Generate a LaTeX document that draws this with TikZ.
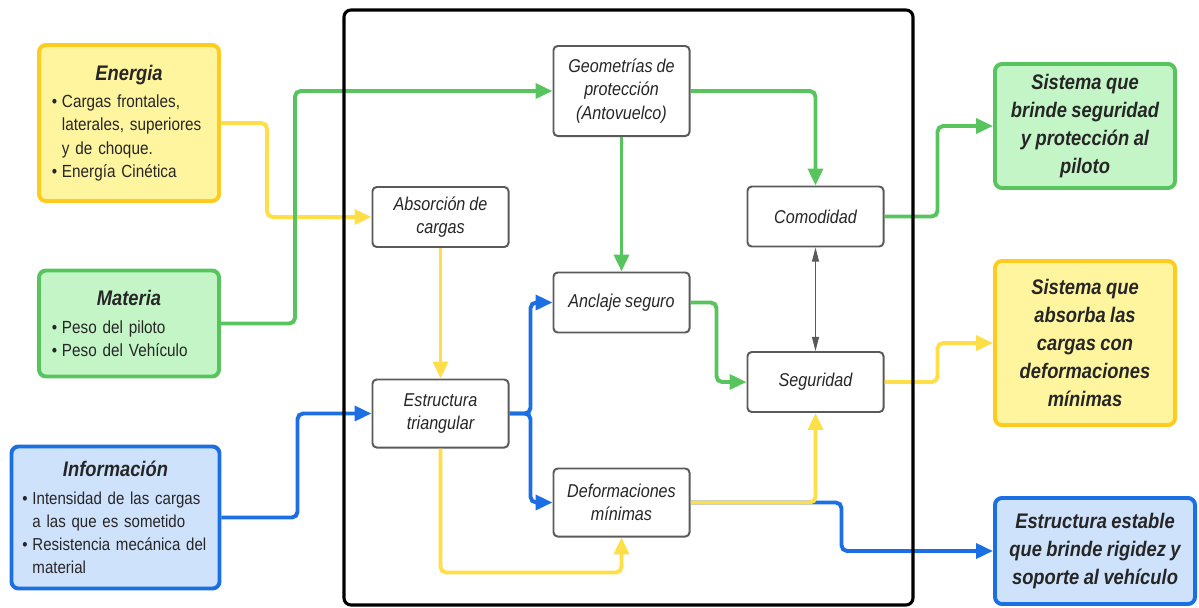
\documentclass[tikz,border=0pt]{standalone}
\usepackage{fontspec}
\setmainfont{Liberation Sans}[FakeStretch=0.87, WordSpace=0.87]
\usetikzlibrary{arrows.meta}

\definecolor{txt}{HTML}{262626}
\definecolor{ylfill}{HTML}{FFF59F}
\definecolor{ylborder}{HTML}{FFCB1F}
\definecolor{ylline}{HTML}{FFDE47}
\definecolor{grfill}{HTML}{C4F5C7}
\definecolor{grborder}{HTML}{57C45E}
\definecolor{blfill}{HTML}{CFE2FC}
\definecolor{blborder}{HTML}{1C6FE3}
\definecolor{stagegray}{HTML}{5A5A5A}

\newcommand{\boxtitle}[1]{{\centering\fontsize{15}{18}\selectfont\bfseries\itshape #1\par}\vspace{3pt}}
\newcommand{\bul}[1]{\par\hangindent=0.25cm\hangafter=1\noindent\makebox[0.25cm][l]{\textbullet}#1\par}

\tikzset{
  inbox/.style={draw, line width=2.8pt, rounded corners=5pt, inner sep=0pt, text=txt,
    align=left, font=\fontsize{12.5}{16.5}\selectfont},
  yellowbox/.style={inbox, draw=ylborder, fill=ylfill},
  greenbox/.style={inbox, draw=grborder, fill=grfill},
  bluebox/.style={inbox, draw=blborder, fill=blfill},
  stage/.style={draw=stagegray, line width=1.4pt, rounded corners=3pt, fill=white, text=txt,
    align=center, minimum width=3.4cm, inner sep=0pt, font=\fontsize{13.2}{16.5}\selectfont\itshape},
  outbox/.style={draw, line width=2.8pt, rounded corners=5pt, inner sep=0pt, text=txt,
    align=center, font=\fontsize{15}{20}\selectfont\bfseries\itshape},
  yellowout/.style={outbox, draw=ylborder, fill=ylfill},
  greenout/.style={outbox, draw=grborder, fill=grfill},
  blueout/.style={outbox, draw=blborder, fill=blfill},
  flow/.style={line width=2.8pt, rounded corners=4pt, -{Triangle[length=12pt,width=10.5pt]}},
  yflow/.style={flow, draw=ylline, color=ylline},
  gflow/.style={flow, draw=grborder, color=grborder},
  bflow/.style={flow, draw=blborder, color=blborder}
}

\begin{document}
\begin{tikzpicture}[x=0.025cm, y=-0.025cm]
\useasboundingbox (0,0) rectangle (1199,607);

% entradas
\node[yellowbox, minimum width=4.5cm, minimum height=3.9cm, text width=3.85cm] (energia) at (129,123)
  {\boxtitle{Energia}\bul{Cargas frontales,\newline laterales, superiores\newline y de choque.}\bul{Energía Cinética}};
\node[greenbox, minimum width=4.5cm, minimum height=2.65cm, text width=3.85cm] (materia) at (129,323.5)
  {\boxtitle{Materia}\bul{Peso del piloto}\bul{Peso del Vehículo}};
\node[bluebox, minimum width=5.2cm, minimum height=3.55cm, text width=4.65cm,
  font=\fontsize{12.3}{16.5}\selectfont] (informacion) at (115.5,517.5)
  {\boxtitle{Información}\bul{Intensidad de las cargas\newline a las que es sometido}\bul{Resistencia mecánica del\newline material}};

% proceso
\node[stage, minimum height=2.25cm] (geometria) at (621.5,91) {Geometrías de\\protección\\(Antovuelco)};
\node[stage, minimum height=1.5cm] (absorcion) at (440.5,217) {Absorción de\\cargas};
\node[stage, minimum height=1.5cm] (comodidad) at (815.5,216.5) {Comodidad};
\node[stage, minimum height=1.5cm] (anclaje) at (621.5,302.5) {Anclaje seguro};
\node[stage, minimum height=1.7cm] (estructura) at (440.5,413.5) {Estructura\\triangular};
\node[stage, minimum height=1.5cm] (seguridad) at (815.5,382) {Seguridad};
\node[stage, minimum height=1.7cm] (deformacion) at (621.5,502.5) {Deformaciones\\mínimas};

% salidas
\node[greenout, minimum width=4.5cm, minimum height=3.1cm] (protege) at (1085,126)
  {Sistema que\\brinde seguridad\\y protección al\\piloto};
\node[yellowout, minimum width=4.5cm, minimum height=4.1cm] (absorbe) at (1085,343)
  {Sistema que\\absorba las\\cargas con\\deformaciones\\mínimas};
\node[blueout, minimum width=5cm, minimum height=2.65cm] (estable) at (1095,551)
  {Estructura estable\\que brinde rigidez y\\soporte al vehículo};

% flujos
\draw[yflow] (energia.east) -- ++(46,0) |- (absorcion.west);
\draw[gflow] (materia.east) -- ++(74,0) |- (geometria.west);
\draw[bflow] (informacion.east) -- ++(76,0) |- (estructura.west);
\draw[yflow] (absorcion.south) -- (estructura.north);
\draw[gflow] (geometria.south) -- (anclaje.north);
\draw[gflow] (geometria.east) -| (comodidad.north);
\draw[bflow] (estructura.east) -- ++(21,0) |- (anclaje.west);
\draw[bflow] (estructura.east) -- ++(21,0) |- (deformacion.west);
\draw[gflow] (anclaje.east) -- ++(26,0) |- (seguridad.west);
\draw[yflow] (estructura.south) -- ++(0,124) -| (deformacion.south);
\draw[bflow] (deformacion.east) -- ++(151,0) |- (estable.west);
\draw[yflow] (deformacion.east) -| (seguridad.south);
\draw[stagegray, line width=0.7pt, {Triangle[length=10pt,width=5pt]}-{Triangle[length=10pt,width=5pt]}]
  (comodidad.south) -- (seguridad.north);
\draw[gflow] (comodidad.east) -- ++(53,0) |- (protege.west);
\draw[yflow] (seguridad.east) -- ++(53,0) |- (absorbe.west);

% sistema
\draw[line width=2.2pt, rounded corners=5pt] (344,10) rectangle (913,605);
\end{tikzpicture}
\end{document}
